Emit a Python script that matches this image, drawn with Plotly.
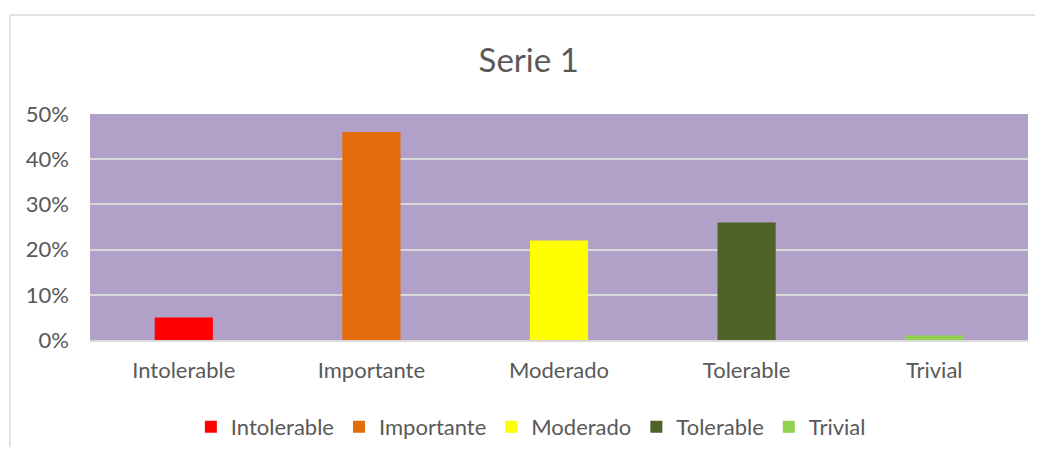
import plotly.graph_objects as go

categories = ["Intolerable", "Importante", "Moderado", "Tolerable", "Trivial"]
values = [0.05, 0.46, 0.22, 0.26, 0.01]
colors = ["#ff0000", "#e46c0a", "#ffff00", "#4f6228", "#92d050"]
y_ticks = [0, 0.1, 0.2, 0.3, 0.4, 0.5]
y_tick_labels = ["0%", "10%", "20%", "30%", "40%", "50%"]

FONT = "Lato, 'Open Sans', sans-serif"
TXT = "#595959"

# page body has an 8px margin: figure is sized to fit inside the 1043x455 window
W, H = 1027, 439
L, R, T, B = 82, 7, 106, 107

fig = go.Figure()
for cat, val, col in zip(categories, values, colors):
    fig.add_trace(go.Bar(x=[cat], y=[val], name=cat, marker=dict(color=col, line=dict(width=0)),
                         width=0.31))

fig.update_layout(
    width=W, height=H,
    margin=dict(l=L, r=R, t=T, b=B, autoexpand=False),
    paper_bgcolor="white",
    plot_bgcolor="#b1a0c7",
    barmode="relative",
    title=dict(text="Serie 1", x=0.507, xanchor="center", y=1 - 52 / H, yanchor="middle",
               font=dict(family=FONT, size=33, color=TXT)),
    showlegend=True,
    legend=dict(orientation="h", x=0.47, xanchor="center", y=-0.385, yanchor="middle",
                font=dict(family=FONT, size=22, color=TXT), itemwidth=30,
                traceorder="normal", bgcolor="rgba(0,0,0,0)"),
    font=dict(family=FONT, color=TXT),
)
fig.update_xaxes(categoryorder="array", categoryarray=categories,
                 tickfont=dict(family=FONT, size=22, color=TXT),
                 showline=True, linecolor="#d9d9d9", linewidth=2, ticks="",
                 ticklabelstandoff=10, fixedrange=True)
fig.update_yaxes(range=[0, 0.5], tickvals=y_ticks, ticktext=y_tick_labels,
                 tickfont=dict(family=FONT, size=22, color=TXT),
                 showgrid=True, gridcolor="#d9d9d9", gridwidth=2, zeroline=False,
                 ticklabelstandoff=20, fixedrange=True)

# chart border (left and top edges visible)
fig.add_shape(type="line", xref="paper", yref="paper", x0=-0.0853, x1=-0.0853, y0=1.438, y1=-1.0,
              line=dict(color="#d9d9d9", width=1.5))
fig.add_shape(type="line", xref="paper", yref="paper", x0=-0.0853, x1=1.2, y0=1.438, y1=1.438,
              line=dict(color="#d9d9d9", width=1.5))

fig.write_html("out.html", config={"displayModeBar": False})
